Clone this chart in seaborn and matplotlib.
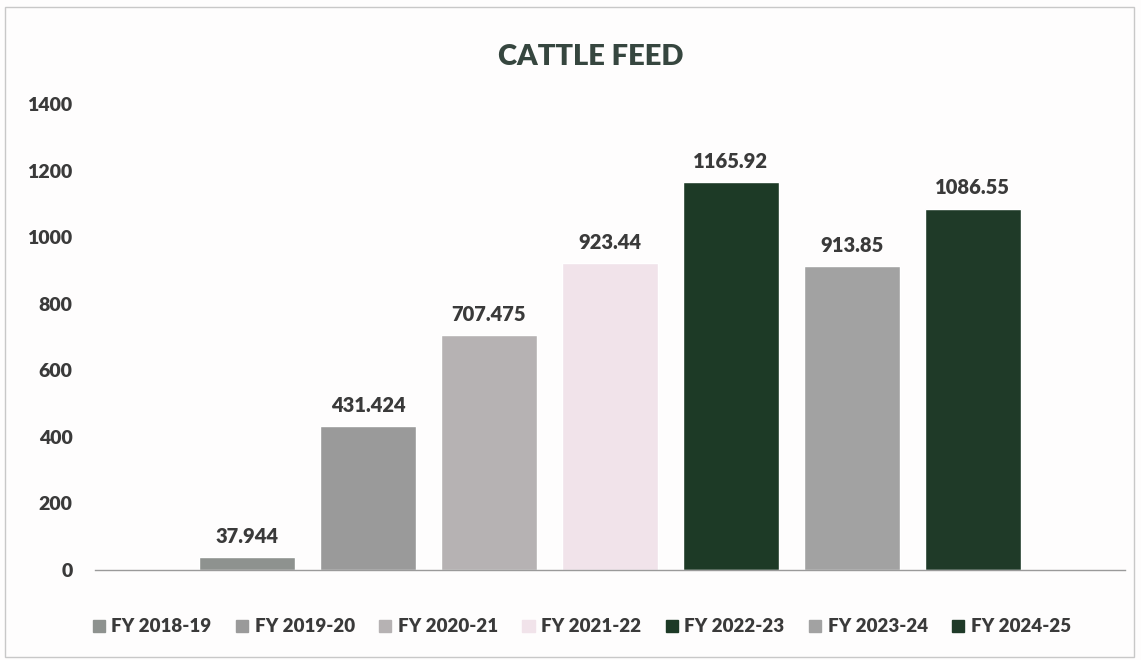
import matplotlib
matplotlib.use("Agg")
import matplotlib.pyplot as plt
import seaborn as sns
import pandas as pd

# Cattle feed volumes by financial year
years = ["FY 2018-19", "FY 2019-20", "FY 2020-21", "FY 2021-22",
         "FY 2022-23", "FY 2023-24", "FY 2024-25"]
values = [37.944, 431.424, 707.475, 923.44, 1165.92, 913.85, 1086.55]
value_labels = ["37.944", "431.424", "707.475", "923.44", "1165.92", "913.85", "1086.55"]
bar_colors = ["#8e928f", "#9a9a9a", "#b6b2b3", "#f1e3ea", "#1d3a26", "#a2a2a2", "#1f3a28"]
yticks = [0, 200, 400, 600, 800, 1000, 1200, 1400]

df = pd.DataFrame({"group": [""] * len(years), "year": years, "value": values})

sns.set_theme(style="white")
plt.rcParams["font.family"] = ["Lato", "DejaVu Sans"]

fig = plt.figure(figsize=(11.41, 6.6), dpi=100, facecolor="#fefdfd")
ax = fig.add_axes([0.083, 0.1364, 0.903, 0.7056])
ax.set_facecolor("#fefdfd")

sns.barplot(data=df, x="group", y="value", hue="year", hue_order=years,
            palette=bar_colors, width=0.822, gap=0.21, saturation=1,
            legend=False, ax=ax)

text_color = "#3a3a3a"
for cont, lab in zip(ax.containers, value_labels):
    ax.bar_label(cont, labels=[lab], padding=8, fontsize=14.5, fontweight="heavy",
                 color=text_color)

ax.set_xlim(-0.5, 0.5)
ax.set_ylim(0, 1400)
ax.set_yticks(yticks)
ax.set_yticklabels([str(t) for t in yticks], fontsize=14, fontweight="heavy",
                   color=text_color)
ax.tick_params(axis="y", length=0, pad=16)
ax.set_xticks([])
ax.set_xlabel("")
ax.set_ylabel("")
for side in ["left", "right", "top"]:
    ax.spines[side].set_visible(False)
ax.spines["bottom"].set_color("#9a9a9a")
ax.spines["bottom"].set_linewidth(1.0)

fig.text(0.518, 0.914, "CATTLE FEED", ha="center", va="center", fontsize=21,
         fontweight="heavy", color="#36463f")

handles = [plt.Rectangle((0, 0), 1, 1, color=c) for c in bar_colors]
leg = fig.legend(handles, years, loc="center", bbox_to_anchor=(0.51, 0.05),
                 ncol=7, frameon=False, fontsize=13.5, handlelength=0.65,
                 handleheight=0.65, handletextpad=0.35, columnspacing=1.3)
for t in leg.get_texts():
    t.set_fontweight("heavy")
    t.set_color(text_color)

# Thin outer frame around the chart area
fig.add_artist(plt.Rectangle((0.004, 0.005), 0.99, 0.985, transform=fig.transFigure,
                             fill=False, edgecolor="#c8c8c8", linewidth=1.0))

fig.savefig("out.png", dpi=100, facecolor=fig.get_facecolor())
